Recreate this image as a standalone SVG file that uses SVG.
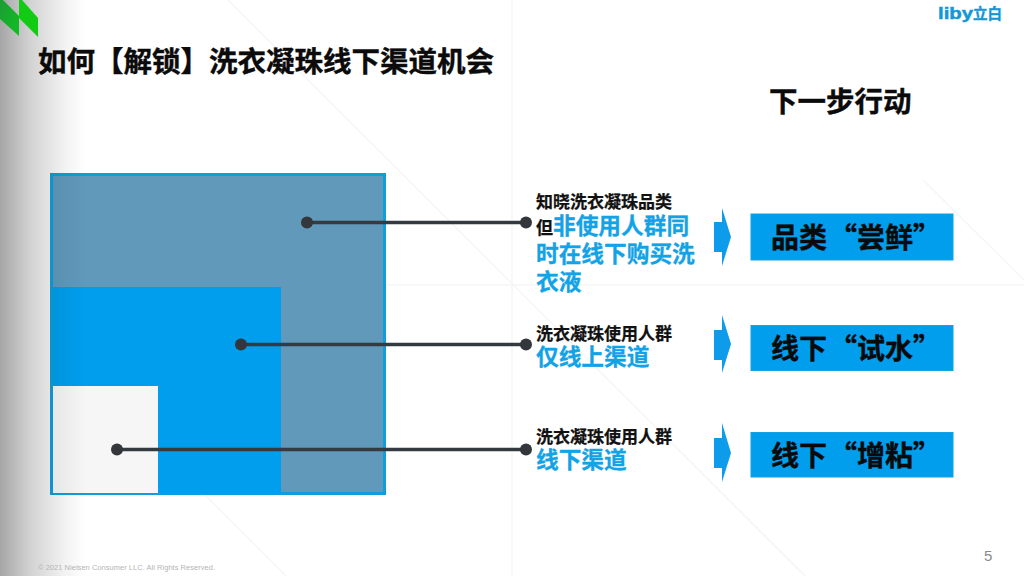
<svg xmlns="http://www.w3.org/2000/svg" width="1024" height="576" viewBox="0 0 1024 576">
<defs>
<linearGradient id="sideShade" x1="0" y1="0" x2="1" y2="0">
<stop offset="0" stop-color="#a6a6a6"/><stop offset="0.35" stop-color="#d2d2d2"/><stop offset="0.75" stop-color="#f2f2f2"/><stop offset="1" stop-color="#ffffff"/>
</linearGradient>
<linearGradient id="boxShade" x1="0" y1="0" x2="1" y2="0">
<stop offset="0" stop-color="#000" stop-opacity="0.07"/><stop offset="1" stop-color="#000" stop-opacity="0"/>
</linearGradient>
<linearGradient id="leafDark" x1="0" y1="0" x2="1" y2="1">
<stop offset="0" stop-color="#1c9c36"/><stop offset="1" stop-color="#10c020"/>
</linearGradient>
</defs>
<style>
text{font-family:"Noto Sans CJK SC","Liberation Sans",sans-serif;font-weight:700}
.h{font-size:28.500px;fill:#0b0b0b;stroke:#0b0b0b;stroke-width:.4}
.s{font-size:17px;fill:#111;stroke:#111;stroke-width:.25}
.b{font-size:22.700px;fill:#12a3e6;stroke:#12a3e6;stroke-width:.3}
.t{font-size:28px;fill:#0a0a0a;stroke:#0a0a0a;stroke-width:.4}
.box{fill:#009eed;stroke:#15a0e0;stroke-width:1}
.arr{fill:#0d9bec}
.faint{stroke:#f6f6f6;stroke-width:1.500;fill:none}
.conn{stroke:#333a40;stroke-width:3.500;fill:none}
.dot{fill:#33363a}
</style>
<rect width="1024" height="576" fill="#fff"/>
<g id="background">
<rect x="0" y="0" width="86" height="576" fill="url(#sideShade)"/>
<path class="faint" d="M228 0L805 576M923 180L1024 280M86 285H1024M512 0V576M86 376L286 576"/>
<path d="M0 0H3L19 16V36L0 19Z" fill="url(#leafDark)"/>
<path d="M19 0H22L38 18V37L19 18Z" fill="#12cc14"/>
</g>
<g id="title"><text class="h" x="38" y="72">如何【解锁】洗衣凝珠线下渠道机会</text></g>
<g id="logo">
<text x="938" y="19" font-size="17" fill="#1298d8" stroke="#1298d8" stroke-width=".5" style="font-family:'Liberation Sans',sans-serif" textLength="35" lengthAdjust="spacingAndGlyphs">liby</text>
<text x="973" y="19" font-size="15" fill="#1298d8" stroke="#1298d8" stroke-width=".4" textLength="29" lengthAdjust="spacingAndGlyphs">立白</text>
</g>
<g id="next-step"><text class="h" x="769" y="112">下一步行动</text></g>
<g id="nested-squares">
<rect x="51.500" y="174.500" width="333" height="319" fill="#6199bb" stroke="#0c9fdc" stroke-width="3"/>
<rect x="53" y="287" width="228" height="206" fill="#009eed"/>
<rect x="53" y="386" width="105" height="107" fill="#f6f6f6"/>
<rect x="50" y="173" width="36" height="322" fill="url(#boxShade)"/>
</g>
<g id="connectors">
<path class="conn" d="M307 222.500H526"/><circle class="dot" cx="307" cy="222.500" r="6"/><circle class="dot" cx="526" cy="222.500" r="6"/>
<path class="conn" d="M241 344.500H526"/><circle class="dot" cx="241" cy="344.500" r="6"/><circle class="dot" cx="526" cy="344.500" r="6"/>
<path class="conn" d="M117 449.500H526"/><circle class="dot" cx="117" cy="449.500" r="6"/><circle class="dot" cx="526" cy="449.500" r="6"/>
</g>
<g id="label-1">
<text class="s" x="536" y="208">知晓洗衣凝珠品类</text>
<text class="s" x="536" y="234">但</text><text class="b" x="553" y="234">非使用人群同</text>
<text class="b" x="536" y="262">时在线下购买洗</text>
<text class="b" x="536" y="290">衣液</text>
</g>
<g id="label-2">
<text class="s" x="536" y="340">洗衣凝珠使用人群</text>
<text class="b" x="536" y="365">仅线上渠道</text>
</g>
<g id="label-3">
<text class="s" x="536" y="443">洗衣凝珠使用人群</text>
<text class="b" x="536" y="468">线下渠道</text>
</g>
<g id="arrow-1"><path class="arr" d="M714 222H722V208L731 237L722 266V252H714Z"/></g>
<g id="arrow-2"><path class="arr" d="M714 330H722V315L731 344L722 373V360H714Z"/></g>
<g id="arrow-3"><path class="arr" d="M714 438H722V423L731 453L722 482V468H714Z"/></g>
<g id="action-1"><rect class="box" x="751" y="214" width="202" height="46"/><text class="t" y="248"><tspan x="771">品类</tspan><tspan x="829">“尝鲜”</tspan></text></g>
<g id="action-2"><rect class="box" x="751" y="325.500" width="202" height="45"/><text class="t" y="359"><tspan x="771">线下</tspan><tspan x="829">“试水”</tspan></text></g>
<g id="action-3"><rect class="box" x="751" y="432.500" width="202" height="44.500"/><text class="t" y="466"><tspan x="771">线下</tspan><tspan x="829">“增粘”</tspan></text></g>
<g id="footer">
<text x="38" y="570" font-size="7.500" fill="#b5b5b5" style="font-family:'Liberation Sans',sans-serif;font-weight:400" textLength="177">© 2021 Nielsen Consumer LLC. All Rights Reserved.</text>
<text x="984" y="561" font-size="15" fill="#8a8a8a" style="font-family:'Liberation Sans',sans-serif;font-weight:400">5</text>
</g>
</svg>
